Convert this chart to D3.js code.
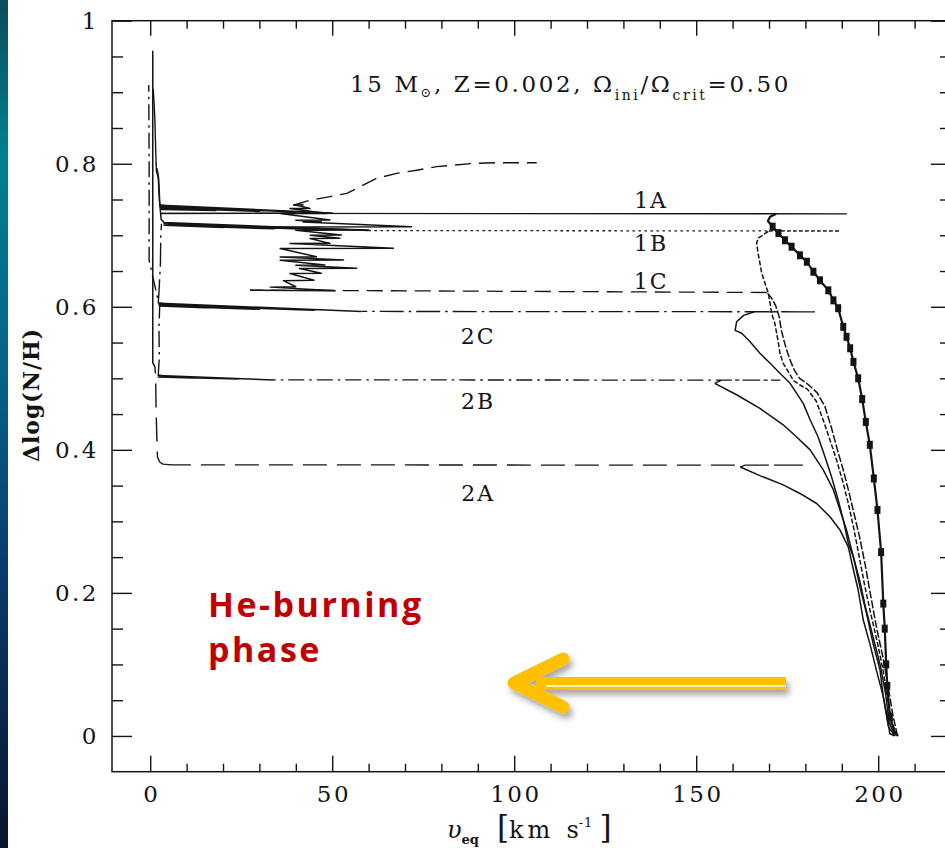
<!DOCTYPE html>
<html>
<head>
<meta charset="utf-8">
<script src="https://cdn.jsdelivr.net/npm/d3@7"></script>
<style>
  html, body { margin: 0; padding: 0; background: #fff; }
  svg { display: block; }
</style>
</head>
<body>
<svg id="chart" width="945" height="848"></svg>
<script>
// ---------------------------------------------------------------
// Surface nitrogen enrichment versus equatorial velocity,
// 15 Msun models at Z = 0.002, Omega_ini/Omega_crit = 0.50.
// Points are [v_eq (km/s), Δlog(N/H)].
// ---------------------------------------------------------------

const xMajorTicks = [0, 50, 100, 150, 200];
const xMinorTicks = [10, 20, 30, 40, 60, 70, 80, 90, 110, 120, 130, 140, 160, 170, 180, 190, 210];
const yMajorTicks = [0, 0.2, 0.4, 0.6, 0.8, 1];
const yMinorTicks = [0.05, 0.1, 0.15, 0.25, 0.3, 0.35, 0.45, 0.5, 0.55, 0.65, 0.7, 0.75, 0.85, 0.9, 0.95];

const modelNames = ["1A", "1B", "1C", "2C", "2B", "2A"];
const labelV     = [137.6, 137.6, 137.6, 90.1, 90.1, 90.1];
const labelDelta = [0.749, 0.689, 0.636, 0.558, 0.467, 0.339];

// --- main-sequence branches -------------------------------------
const ms1A = [[205.5,0.000],[204.6,0.004],[203.2,0.027],[202.5,0.070],[202.2,0.100],[201.8,0.150],[201.4,0.185],
  [200.8,0.257],[199.8,0.316],[198.8,0.360],[197.7,0.407],[196.6,0.439],[195.6,0.471],[194.5,0.500],[193.2,0.523],
  [192.3,0.542],[191.3,0.558],[190.4,0.572],[189.0,0.598],[187.7,0.609],[186.3,0.623],[184.0,0.637],[182.2,0.649],
  [180.4,0.663],[178.5,0.672],[176.2,0.684],[174.4,0.693],[172.6,0.703],[171.0,0.712],[169.7,0.720],[170.3,0.726],[172.0,0.730]];
const ms1B = [[205.0,0.000],[203.8,0.020],[202.6,0.050],[201.4,0.090],[199.8,0.130],[198.0,0.170],[196.3,0.210],
  [194.8,0.250],[193.3,0.290],[191.8,0.325],[190.3,0.355],[188.6,0.385],[187.0,0.410],[185.0,0.440],[183.0,0.468],
  [180.5,0.485],[178.4,0.491],[176.7,0.497],[175.3,0.509],[173.9,0.521],[173.0,0.535],[172.6,0.549],[172.1,0.563],
  [171.6,0.577],[170.7,0.591],[170.3,0.605],[169.8,0.619],[168.9,0.633],[168.0,0.647],[167.5,0.661],[167.0,0.675],
  [166.6,0.689],[167.0,0.696],[168.5,0.701],[170.0,0.706]];
const ms1C = [[205.3,0.000],[204.0,0.030],[202.7,0.070],[201.3,0.110],[199.6,0.150],[197.8,0.200],[196.4,0.240],
  [194.8,0.280],[193.4,0.310],[192.0,0.340],[190.5,0.370],[188.8,0.400],[187.2,0.430],[185.4,0.460],[183.2,0.480],
  [180.6,0.492],[178.4,0.500],[177.0,0.511],[176.0,0.523],[175.0,0.537],[174.2,0.551],[173.4,0.567],[172.8,0.586],
  [171.8,0.602],[170.6,0.613],[169.4,0.620]];
const ms2C = [[204.5,0.000],[203.0,0.020],[202.0,0.060],[200.5,0.100],[198.5,0.140],[196.5,0.180],[194.8,0.220],
  [193.2,0.250],[191.8,0.269],[190.4,0.302],[189.0,0.330],[187.2,0.362],[185.4,0.390],[183.5,0.418],[181.3,0.442],
  [179.4,0.465],[175.8,0.493],[173.0,0.507],[170.3,0.521],[167.5,0.535],[164.8,0.551],[162.5,0.563],[160.7,0.567],
  [161.1,0.579],[163.0,0.588],[166.0,0.593]];
const ms2B = [[204.5,0.000],[202.8,0.013],[201.4,0.055],[200.5,0.092],[198.6,0.129],[196.8,0.171],[195.0,0.208],
  [193.2,0.250],[191.3,0.288],[189.5,0.316],[187.7,0.344],[184.9,0.372],[181.3,0.400],[177.6,0.418],[173.9,0.435],
  [167.5,0.458],[161.1,0.477],[155.1,0.493]];
const ms2A = [[204.5,0.000],[203.2,0.003],[202.8,0.017],[201.4,0.055],[199.5,0.092],[197.7,0.129],[195.9,0.162],
  [194.5,0.204],[193.2,0.232],[191.8,0.264],[189.5,0.288],[186.8,0.306],[183.1,0.325],[178.5,0.339],[173.9,0.351],
  [167.5,0.364],[162.1,0.376]];

// --- crossing towards the red side (He-burning phase) ---------------
const cross1A = [[172.0,0.7300],[191.3,0.7300],[3.0,0.7306]];
const cross1B = [[170.0,0.7060],[189.5,0.7060],[60.0,0.7066]];
const cross1C = [[169.4,0.6200],[27.4,0.6233]];
const cross2C = [[166.0,0.5930],[183.0,0.5930],[58.0,0.5935]];
const cross2B = [[155.1,0.4930],[157.0,0.4975],[173.0,0.4975],[34.0,0.4978]];
const cross2A = [[162.1,0.3760],[163.5,0.3786],[180.0,0.3786],[6.0,0.3790]];

// --- slow, densely sampled stages at low velocity -------------------
const he1A = [[3.0,0.7306],[50.0,0.7310],[3.0,0.7420],[40.0,0.7325],[3.0,0.7400],[30.0,0.7335],[3.0,0.7380],
  [18.0,0.7345],[3.0,0.7360],[2.6,0.7450]];
const he1B = [[60.0,0.7066],[3.8,0.7180],[48.0,0.7075],[3.8,0.7160],[34.0,0.7090],[3.8,0.7140],[20.0,0.7110],
  [3.8,0.7180],[3.0,0.7220],[2.6,0.7450],[2.5,0.7600],[2.3,0.7800],[2.0,0.7900]];
const he1C = [[27.4,0.6233],[50.8,0.6226],[33.0,0.6275],[40.0,0.6280],[36.6,0.6365],[45.0,0.6370],[38.4,0.6465],
  [47.0,0.6470],[41.0,0.6535],[56.7,0.6540],[40.0,0.6580],[48.0,0.6583],[35.7,0.6650],[53.1,0.6653],[35.7,0.6697],
  [45.7,0.6700],[35.7,0.6815],[66.8,0.6817],[38.4,0.6885],[49.4,0.6887],[43.9,0.6955],[52.1,0.6957],[44.0,0.7001],
  [52.5,0.7003],[40.0,0.7071],[60.0,0.7073],[31.0,0.7117],[71.8,0.7119],[42.0,0.7187],[47.0,0.7189],[40.0,0.7211],
  [49.4,0.7213],[35.7,0.7304],[48.5,0.7306],[38.4,0.7374],[43.9,0.7376],[40.2,0.7420],[42.0,0.7422],[39.3,0.7420]];
const he2C = [[58.0,0.5935],[2.6,0.6050],[45.0,0.5950],[2.6,0.6030],[30.0,0.5965],[2.6,0.6010],[15.0,0.5985],[2.2,0.6050]];
const he2B = [[34.0,0.4978],[2.2,0.5040],[24.0,0.4990],[2.2,0.5020],[12.0,0.5005],[2.2,0.5040]];
const he2A = [[1.3,0.516],[0.7,0.522],[0.7,0.958]];

// --- sparser late stretches ---------------------------------------
const rise1A = [[2.6,0.745],[2.4,0.760],[2.2,0.780],[1.7,0.790],[1.5,0.820],[1.3,0.860],[1.0,0.890],[0.8,0.905]];
const rise1B = [[2.0,0.790],[1.6,0.800]];
const rise1C = [[39.3,0.742],[43.9,0.749],[49.4,0.754],[54.0,0.7586],[58.5,0.770],[62.2,0.7796],[67.7,0.7866],
  [73.2,0.791],[78.7,0.796],[83.3,0.798],[88.8,0.8005],[95.2,0.8014],[106.2,0.8014]];
const rise2C = [[2.2,0.605],[2.4,0.620],[2.8,0.660],[2.9,0.700],[3.1,0.716]];
const rise2B = [[2.2,0.504],[2.5,0.530],[2.4,0.570],[2.6,0.600],[1.0,0.635],[-0.3,0.665],[-0.3,0.800],[-0.4,0.910]];
const rise2A = [[6.0,0.3790],[3.5,0.3800],[2.6,0.383],[2.0,0.390],[1.8,0.420],[1.6,0.460],[1.5,0.500],[1.3,0.516]];

const msData    = [ms1A, ms1B, ms1C, ms2C, ms2B, ms2A];
const crossData = [cross1A, cross1B, cross1C, cross2C, cross2B, cross2A];
const heData    = [he1A, he1B, he1C, he2C, he2B, he2A];
const riseData  = [rise1A, rise1B, rise1C, rise2C, rise2B, rise2A];

// ---------------------------------------------------------------
const W = 945, H = 848;
const frame = { left: 112, right: 951, top: 20.7, bottom: 771.7 };
const x = d3.scaleLinear().domain([-10.5, 220]).range([frame.left, frame.right]);
const y = d3.scaleLinear().domain([-0.05, 1.0]).range([frame.bottom, frame.top]);

const ink = "#141414";
const serif = "'DejaVu Serif', 'Liberation Serif', serif";

const svg = d3.select("#chart");
const defs = svg.append("defs");

// slide-edge colour band
const band = defs.append("linearGradient").attr("id", "band")
  .attr("x1", 0).attr("y1", 0).attr("x2", 0).attr("y2", 1);
[[0, "#0c4b5e"], [0.18, "#00808f"], [0.42, "#07658a"], [0.68, "#0a3a6c"], [1, "#0a1530"]]
  .forEach(([o, c]) => band.append("stop").attr("offset", o).attr("stop-color", c));
svg.append("rect").attr("x", 0).attr("y", 0).attr("width", 8).attr("height", H).attr("fill", "url(#band)");

defs.append("clipPath").attr("id", "plotclip").append("rect")
  .attr("x", frame.left).attr("y", frame.top)
  .attr("width", frame.right - frame.left).attr("height", frame.bottom - frame.top);

const shadow = defs.append("filter").attr("id", "shadow")
  .attr("x", "-20%").attr("y", "-40%").attr("width", "150%").attr("height", "200%");
shadow.append("feDropShadow").attr("dx", 3).attr("dy", 5).attr("stdDeviation", 3)
  .attr("flood-color", "#000").attr("flood-opacity", 0.35);

// ---- axes (ticks point inwards on all four sides) ----
function styleAxis(g) {
  g.select(".domain").remove();
  g.selectAll(".tick line").attr("stroke", ink).attr("stroke-width", 1.4);
  g.selectAll(".tick text").attr("font-family", serif).attr("font-size", 23)
    .attr("letter-spacing", "2.5px").attr("fill", ink);
}
const fmtY = d => (d === 0 ? "0" : d === 1 ? "1" : d3.format(".1f")(d));

svg.append("g").attr("transform", `translate(0,${frame.bottom})`)
  .call(d3.axisBottom(x).tickValues(xMajorTicks).tickSize(-16).tickPadding(14).tickFormat(d3.format("d")))
  .call(styleAxis)
  .call(g => g.selectAll(".tick text").attr("dx", "1.2px"));
svg.append("g").attr("transform", `translate(0,${frame.bottom})`)
  .call(d3.axisBottom(x).tickValues(xMinorTicks).tickSize(-8).tickFormat(""))
  .call(styleAxis);
svg.append("g").attr("transform", `translate(0,${frame.top})`)
  .call(d3.axisTop(x).tickValues(xMajorTicks).tickSize(-15).tickFormat(""))
  .call(styleAxis);
svg.append("g").attr("transform", `translate(0,${frame.top})`)
  .call(d3.axisTop(x).tickValues(xMinorTicks).tickSize(-8).tickFormat(""))
  .call(styleAxis);
svg.append("g").attr("transform", `translate(${frame.left},0)`)
  .call(d3.axisLeft(y).tickValues(yMajorTicks).tickSize(-20).tickPadding(13).tickFormat(fmtY))
  .call(styleAxis);
svg.append("g").attr("transform", `translate(${frame.left},0)`)
  .call(d3.axisLeft(y).tickValues(yMinorTicks).tickSize(-11).tickFormat(""))
  .call(styleAxis);
svg.append("g").attr("transform", `translate(${frame.right},0)`)
  .call(d3.axisRight(y).tickValues(yMajorTicks).tickSize(-20).tickFormat(""))
  .call(styleAxis);
svg.append("g").attr("transform", `translate(${frame.right},0)`)
  .call(d3.axisRight(y).tickValues(yMinorTicks).tickSize(-11).tickFormat(""))
  .call(styleAxis);

svg.append("rect")
  .attr("x", frame.left).attr("y", frame.top)
  .attr("width", frame.right - frame.left).attr("height", frame.bottom - frame.top)
  .attr("fill", "none").attr("stroke", ink).attr("stroke-width", 1.5);

// ---- evolutionary tracks ----
const dashFor = { "1A": null, "1B": "2.5,3.5", "1C": "16,8", "2C": "24,5,2.5,5", "2B": "16,5,2.5,5", "2A": "24,10" };
const msDash  = { "1A": null, "1B": "5,2", "1C": "8,2", "2C": null, "2B": null, "2A": null };

const tracks = modelNames.map((name, i) => ({
  name, ms: msData[i], cross: crossData[i], he: heData[i], rise: riseData[i]
}));

const line = d3.line().x(d => x(d[0])).y(d => y(d[1]));
const plot = svg.append("g").attr("clip-path", "url(#plotclip)");

tracks.forEach(t => {
  const g = plot.append("g").attr("class", "track-" + t.name)
    .attr("fill", "none").attr("stroke", ink).attr("stroke-linejoin", "round");
  g.append("path").datum(t.ms).attr("d", line)
    .attr("stroke-width", t.name === "1A" ? 2.2 : 1.5)
    .attr("stroke-dasharray", msDash[t.name]);
  g.append("path").datum(t.cross).attr("d", line)
    .attr("stroke-width", 1.3)
    .attr("stroke-dasharray", dashFor[t.name]);
  g.append("path").datum(t.he).attr("d", line)
    .attr("stroke-width", 1.5);
  g.append("path").datum(t.rise).attr("d", line)
    .attr("stroke-width", 1.4)
    .attr("stroke-dasharray", dashFor[t.name]);
});

// filled markers along the 1A main-sequence branch
plot.append("g").selectAll("rect")
  .data(ms1A.slice(2, ms1A.length - 3))
  .join("rect")
  .attr("x", d => x(d[0]) - 3).attr("y", d => y(d[1]) - 4)
  .attr("width", 6).attr("height", 8).attr("fill", ink);

// model labels
svg.append("g").selectAll("text")
  .data(modelNames)
  .join("text")
  .attr("x", (d, i) => x(labelV[i])).attr("y", (d, i) => y(labelDelta[i]))
  .attr("text-anchor", "middle").attr("dominant-baseline", "central")
  .attr("font-family", serif).attr("font-size", 22).attr("letter-spacing", "2px")
  .attr("fill", ink).text(d => d);

// ---- title inside the frame ----
const title = svg.append("text").attr("x", 350).attr("y", 92)
  .attr("font-family", serif).attr("font-size", 23).attr("letter-spacing", "2.6px").attr("fill", ink);
title.append("tspan").text("15 M");
title.append("tspan").attr("font-size", 13).attr("dy", 5).text("⊙");
title.append("tspan").attr("dy", -5).text(", Z=0.002, Ω");
title.append("tspan").attr("font-size", 14).attr("dy", 8).text("ini");
title.append("tspan").attr("dy", -8).text("/Ω");
title.append("tspan").attr("font-size", 14).attr("dy", 8).text("crit");
title.append("tspan").attr("dy", -8).text("=0.50");

// ---- axis titles ----
const xt = svg.append("text").attr("x", 447).attr("y", 838)
  .attr("font-family", serif).attr("font-size", 24).attr("fill", ink);
xt.append("tspan").attr("font-style", "italic").text("υ");
xt.append("tspan").attr("font-size", 13).attr("font-weight", "bold").attr("dy", 6).text("eq");
xt.append("tspan").attr("dy", -6).attr("font-size", 31).attr("dx", 18).text("[");
xt.append("tspan").attr("letter-spacing", "4px").text("km");
xt.append("tspan").attr("dx", 12).text("s");
xt.append("tspan").attr("font-size", 13).attr("dy", -11).attr("letter-spacing", "1px").text("-1");
xt.append("tspan").attr("font-size", 31).attr("dy", 11).attr("dx", 6).text("]");

svg.append("text")
  .attr("transform", "translate(31,395) rotate(-90)")
  .attr("text-anchor", "middle").attr("dominant-baseline", "central")
  .attr("font-family", serif).attr("font-size", 22).attr("font-weight", "bold")
  .attr("letter-spacing", "1px").attr("fill", ink)
  .text("Δlog(N/H)");

// ---- annotation: He-burning phase with leftward arrow ----
const note = svg.append("text").attr("font-family", "'Open Sans', 'Noto Sans', sans-serif")
  .attr("font-weight", "bold").attr("font-size", 34).attr("letter-spacing", "2.5px").attr("fill", "#c00000");
note.append("tspan").attr("x", 208).attr("y", 617).text("He-burning");
note.append("tspan").attr("x", 208).attr("y", 662).text("phase");

const arrow = svg.append("g").attr("filter", "url(#shadow)");
arrow.append("rect").attr("x", 536).attr("y", 677).attr("width", 250).attr("height", 13).attr("fill", "#ffc000");
arrow.append("path").attr("d", "M563,659 L514,683 L563,707")
  .attr("fill", "none").attr("stroke", "#ffc000").attr("stroke-width", 13)
  .attr("stroke-linecap", "round").attr("stroke-linejoin", "round");
svg.append("line").attr("x1", 546).attr("x2", 786).attr("y1", 686).attr("y2", 686)
  .attr("stroke", "#fff").attr("stroke-width", 1.6);
</script>
</body>
</html>
